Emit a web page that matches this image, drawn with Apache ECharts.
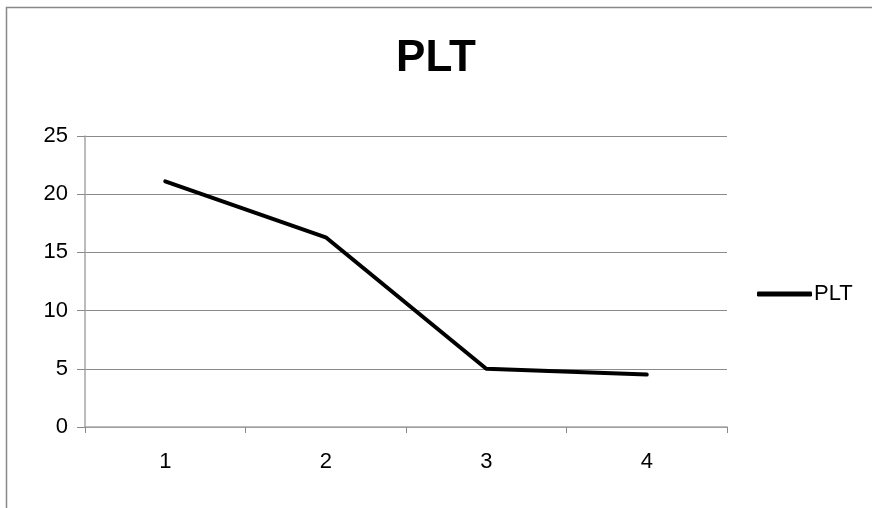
<!DOCTYPE html>
<html><head><meta charset="utf-8">
<script src="https://cdn.jsdelivr.net/npm/echarts@6/dist/echarts.min.js"></script>
<style>html,body{margin:0;padding:0;background:#fff}#c{width:872px;height:508px}</style>
</head><body><div id="c"></div>
<script>
const categories = ['1', '2', '3', '4'];
const pltValues = [21.1, 16.3, 5.0, 4.5];
const seriesName = 'PLT';
const titleText = 'PLT';

const chart = echarts.init(document.getElementById('c'));
chart.setOption({
  animation: false,
  backgroundColor: '#fff',
  title: {
    text: titleText, left: 'center', top: 32,
    textStyle: { fontFamily: 'Liberation Sans, Arial', fontWeight: 'bold', fontSize: 44, color: '#000' }
  },
  graphic: [{
    type: 'rect', shape: { x: 6.5, y: 7.5, width: 900, height: 600 },
    style: { fill: 'none', stroke: '#888', lineWidth: 1.5 }, silent: true
  }],
  legend: {
    data: [{ name: seriesName, icon: 'roundRect' }], left: 757, top: 283, orient: 'vertical',
    itemWidth: 55, itemHeight: 5, itemGap: 0, padding: 0,
    itemStyle: { color: '#000' },
    textStyle: { fontFamily: 'Liberation Sans, Arial', fontSize: 22, color: '#000', padding: [0, 0, 0, -3] }
  },
  grid: { left: 85, right: 145, top: 136, bottom: 81 },
  xAxis: {
    type: 'category', data: categories, boundaryGap: true,
    axisLine: { lineStyle: { color: '#a6a6a6', width: 1.5 } },
    axisTick: { show: true, alignWithLabel: false, length: 6, lineStyle: { color: '#888' } },
    axisLabel: { fontFamily: 'Liberation Sans, Arial', fontSize: 22, color: '#000', margin: 24 }
  },
  yAxis: {
    type: 'value', min: 0, max: 25, interval: 5,
    axisLine: { show: true, lineStyle: { color: '#a6a6a6', width: 1.5 } },
    axisTick: { show: true, length: 8, inside: false, lineStyle: { color: '#888' } },
    splitLine: { lineStyle: { color: '#8a8a8a', width: 1 } },
    axisLabel: { fontFamily: 'Liberation Sans, Arial', fontSize: 22, color: '#000', margin: 17 }
  },
  series: [{
    name: seriesName, type: 'line', data: pltValues,
    symbol: 'none', color: '#000',
    lineStyle: { color: '#000', width: 4, cap: 'round', join: 'round' }
  }]
});
</script></body></html>
